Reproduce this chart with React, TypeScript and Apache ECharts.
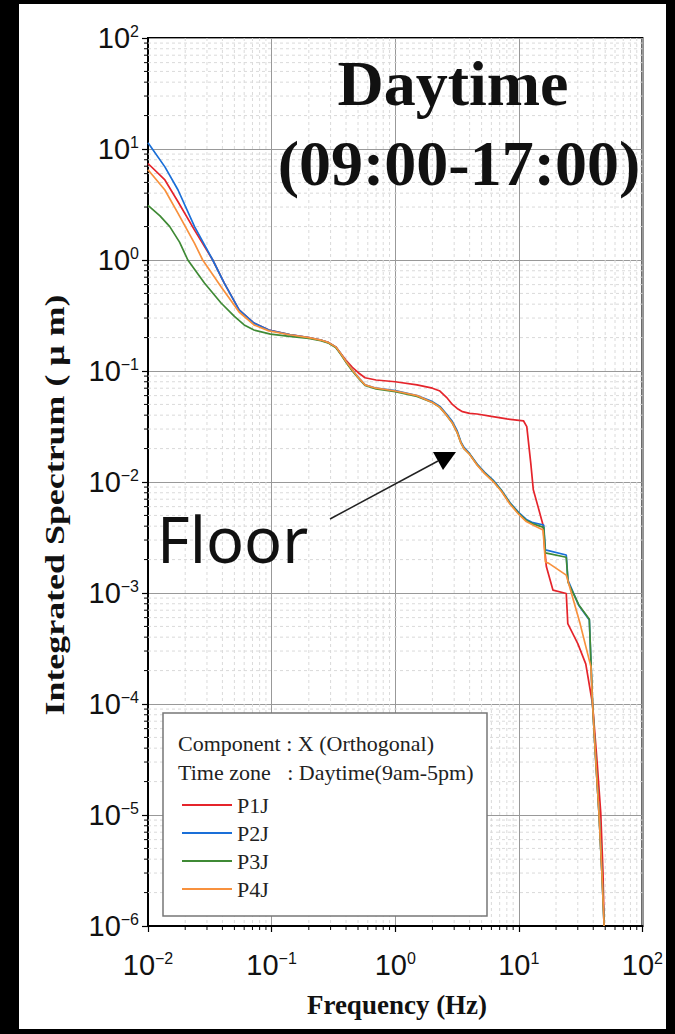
import React, { useEffect, useRef } from "react";
import * as echarts from "echarts";

// ---------- data ----------
const freqP1J = [0.01, 0.0137, 0.0175, 0.0238, 0.0334, 0.0414, 0.0546, 0.072, 0.095, 0.14, 0.2, 0.25, 0.29, 0.33, 0.36, 0.4, 0.45, 0.5, 0.57, 0.7, 1.0, 1.5, 2.0, 2.3, 2.6, 2.9, 3.17, 3.5, 4.0, 4.6, 6, 8, 10.9, 11.6, 12.5, 13.1, 14.3, 15.7, 16.2, 16.7, 18.9, 24.2, 24.9, 30, 34.8, 39.5, 43, 46, 48, 49];
const valP1J = [7.4, 5.26, 3.35, 1.86, 1.0, 0.62, 0.355, 0.27, 0.234, 0.213, 0.2, 0.19, 0.18, 0.165, 0.145, 0.125, 0.108, 0.097, 0.087, 0.083, 0.08, 0.075, 0.07, 0.066, 0.058, 0.05, 0.046, 0.043, 0.0415, 0.041, 0.039, 0.037, 0.0356, 0.0315, 0.0147, 0.0085, 0.006, 0.0041, 0.0025, 0.00173, 0.00106, 0.00099, 0.00053, 0.00035, 0.00023, 0.0001, 0.00003, 0.0000105, 0.000003, 0.000001];

const freqP2J = [0.01, 0.0137, 0.0175, 0.0238, 0.0334, 0.0414, 0.0546, 0.072, 0.095, 0.14, 0.2, 0.25, 0.29, 0.33, 0.36, 0.4, 0.45, 0.5, 0.57, 0.7, 1.0, 1.5, 2.0, 2.3, 2.6, 2.9, 3.17, 3.4, 3.6, 4.0, 4.6, 5.3, 6.2, 7.2, 8.5, 10, 11.5, 13, 15.9, 16.4, 24.2, 25, 30.6, 37.2, 39.5, 42, 44.6, 47, 49];
const valP2J = [11.4, 6.9, 4.27, 2.0, 1.0, 0.62, 0.355, 0.27, 0.234, 0.213, 0.2, 0.19, 0.18, 0.165, 0.145, 0.122, 0.102, 0.088, 0.075, 0.07, 0.0665, 0.06, 0.053, 0.048, 0.041, 0.035, 0.029, 0.023, 0.0205, 0.018, 0.0145, 0.0122, 0.0104, 0.0085, 0.0065, 0.0053, 0.0046, 0.0043, 0.0041, 0.00245, 0.0022, 0.0013, 0.00077, 0.00057, 0.0001, 0.00003, 0.00001, 0.000003, 0.000001];

const freqP3J = [0.01, 0.0125, 0.015, 0.018, 0.021, 0.0286, 0.039, 0.05, 0.06, 0.072, 0.098, 0.14, 0.2, 0.25, 0.29, 0.33, 0.36, 0.4, 0.45, 0.5, 0.57, 0.7, 1.0, 1.5, 2.0, 2.3, 2.6, 2.9, 3.17, 3.4, 3.6, 4.0, 4.6, 5.3, 6.2, 7.2, 8.5, 10, 11.5, 13, 15.9, 16.4, 24.2, 25, 30.6, 37.2, 39.5, 42, 44.6, 47, 49];
const valP3J = [3.1, 2.5, 2.0, 1.45, 1.0, 0.62, 0.41, 0.31, 0.26, 0.234, 0.215, 0.205, 0.197, 0.188, 0.178, 0.163, 0.143, 0.12, 0.1, 0.087, 0.074, 0.069, 0.065, 0.059, 0.052, 0.047, 0.04, 0.034, 0.028, 0.0225, 0.02, 0.0178, 0.0143, 0.012, 0.0102, 0.0084, 0.0064, 0.0052, 0.0045, 0.0042, 0.0039, 0.0023, 0.0021, 0.00125, 0.00078, 0.00058, 0.0001, 0.00003, 0.00001, 0.000003, 0.000001];

const freqP4J = [0.01, 0.0137, 0.0175, 0.0238, 0.0277, 0.039, 0.0546, 0.072, 0.095, 0.14, 0.2, 0.25, 0.29, 0.33, 0.36, 0.4, 0.45, 0.5, 0.57, 0.7, 1.0, 1.5, 2.0, 2.3, 2.6, 2.9, 3.17, 3.4, 3.6, 4.0, 4.6, 5.3, 6.2, 7.2, 8.5, 10, 11.5, 13, 15.7, 16.4, 17.5, 24.2, 31.3, 38.3, 39.5, 42, 44.6, 47, 49];
const valP4J = [6.5, 4.27, 2.63, 1.41, 1.0, 0.575, 0.34, 0.26, 0.23, 0.212, 0.2, 0.19, 0.18, 0.165, 0.145, 0.122, 0.102, 0.088, 0.075, 0.07, 0.066, 0.06, 0.052, 0.047, 0.04, 0.034, 0.028, 0.0225, 0.02, 0.0177, 0.0142, 0.0119, 0.0101, 0.0083, 0.0063, 0.0051, 0.0044, 0.0041, 0.0037, 0.0019, 0.00185, 0.00145, 0.00053, 0.000217, 0.0001, 0.00003, 0.00001, 0.000003, 0.000001];

const seriesNames = ["P1J", "P2J", "P3J", "P4J"];
const seriesColors = ["#e5242b", "#1a6fd8", "#3f8a35", "#f8913d"];

const xDecades = [0.01, 0.1, 1, 10];
const yDecades = [0.000001, 0.00001, 0.0001, 0.001, 0.01, 0.1, 1, 10];
const minorMultipliers = [2, 3, 4, 5, 6, 7, 8, 9];

const titleLine1 = "Daytime";
const titleLine2 = "(09:00-17:00)";
const legendLine1 = "Component : X (Orthogonal)";
const legendLine2 = "Time zone   : Daytime(9am-5pm)";
const xAxisTitle = "Frequency (Hz)";
const yAxisTitle = "Integrated Spectrum ( \u03bc m)";
const annotationText = "Floor";

const SERIF = "'Liberation Serif', 'Times New Roman', serif";
const SANS = "'Liberation Sans', Arial, sans-serif";

function zip(f: number[], v: number[]) {
  return f.map((x, i) => [x, v[i]]);
}

function expLabel(v: number) {
  const e = Math.round(Math.log10(v));
  const s = e < 0 ? "\u2212" + Math.abs(e) : String(e);
  return `{m|10}{e|${s}}`;
}

const richLabel = {
  m: { fontSize: 29, fontFamily: SANS, color: "#111", lineHeight: 30 },
  e: { fontSize: 16, fontFamily: SANS, color: "#111", verticalAlign: "top", lineHeight: 16 },
};

export default function App() {
  const ref = useRef<HTMLDivElement>(null);

  useEffect(() => {
    if (!ref.current) return;
    const chart = echarts.init(ref.current, undefined, { renderer: "svg" });

    const lineData = [zip(freqP1J, valP1J), zip(freqP2J, valP2J), zip(freqP3J, valP3J), zip(freqP4J, valP4J)];

    const minorX: number[][] = [];
    xDecades.forEach((d) => minorMultipliers.forEach((m) => minorX.push([m * d, 1])));
    const minorY: number[][] = [];
    yDecades.forEach((d) => minorMultipliers.forEach((m) => minorY.push([1, m * d])));

    const option: any = {
      animation: false,
      backgroundColor: "#ffffff",
      grid: {
        left: 129,
        top: 34,
        right: 19,
        bottom: 103,
        show: true,
        borderColor: "#000",
        borderWidth: 2,
        backgroundColor: "transparent",
      },
      xAxis: {
        type: "log",
        logBase: 10,
        min: 0.01,
        max: 100,
        splitNumber: 4,
        axisLine: { show: true, onZero: false, lineStyle: { color: "#000", width: 2 } },
        axisTick: { show: true, inside: false, length: 6, lineStyle: { color: "#000", width: 1.2 } },
        axisLabel: { formatter: expLabel, rich: richLabel, margin: 24 },
        splitLine: { show: true, lineStyle: { color: "#999", width: 1 } },
      },
      yAxis: {
        type: "log",
        logBase: 10,
        min: 0.000001,
        max: 100,
        splitNumber: 8,
        axisLine: { show: true, onZero: false, lineStyle: { color: "#000", width: 2 } },
        axisTick: { show: true, inside: false, length: 6, lineStyle: { color: "#000", width: 1.2 } },
        axisLabel: { formatter: expLabel, rich: richLabel, margin: 9 },
        splitLine: { show: true, lineStyle: { color: "#999", width: 1 } },
      },
      legend: {
        data: seriesNames,
        orient: "vertical",
        left: 158,
        top: 785,
        icon: "rect",
        itemWidth: 50,
        itemHeight: 2,
        itemGap: 6,
        z: 6,
        textStyle: { fontFamily: SERIF, fontSize: 22, color: "#222", lineHeight: 22 },
      },
      series: [
        {
          type: "custom",
          name: "minorX",
          z: 1,
          silent: true,
          clip: false,
          data: minorX,
          encode: { x: 0, y: 1 },
          renderItem: (params: any, api: any) => {
            const cs = params.coordSys;
            const x = api.coord([api.value(0), 1])[0];
            return {
              type: "group",
              children: [
                { type: "line", shape: { x1: x, y1: cs.y, x2: x, y2: cs.y + cs.height }, style: { stroke: "#dadada", lineWidth: 1, lineDash: [3, 3] } },
                { type: "line", shape: { x1: x, y1: cs.y + cs.height, x2: x, y2: cs.y + cs.height + 4 }, style: { stroke: "#000", lineWidth: 1 } },
              ],
            };
          },
        },
        {
          type: "custom",
          name: "minorY",
          z: 1,
          silent: true,
          clip: false,
          data: minorY,
          encode: { x: 0, y: 1 },
          renderItem: (params: any, api: any) => {
            const cs = params.coordSys;
            const y = api.coord([1, api.value(1)])[1];
            return {
              type: "group",
              children: [
                { type: "line", shape: { x1: cs.x, y1: y, x2: cs.x + cs.width, y2: y }, style: { stroke: "#dadada", lineWidth: 1, lineDash: [3, 3] } },
                { type: "line", shape: { x1: cs.x - 4, y1: y, x2: cs.x, y2: y }, style: { stroke: "#000", lineWidth: 1 } },
              ],
            };
          },
        },
        ...seriesNames.map((name, i) => ({
          type: "line",
          name,
          data: lineData[i],
          showSymbol: false,
          symbol: "none",
          z: 3,
          color: seriesColors[i],
          lineStyle: { color: seriesColors[i], width: 1.7 },
        })),
      ],
      graphic: [
        { type: "text", z: 5, style: { text: titleLine1, x: 434, y: 79, align: "center", verticalAlign: "middle", font: `bold 64px ${SERIF}`, fill: "#111" } },
        { type: "text", z: 5, style: { text: titleLine2, x: 440, y: 159, align: "center", verticalAlign: "middle", font: `bold 64px ${SERIF}`, fill: "#111" } },
        { type: "rect", z: 4, shape: { x: 144, y: 709, width: 324, height: 203 }, style: { fill: "#fff", stroke: "#777", lineWidth: 1.5 } },
        { type: "text", z: 5, style: { text: legendLine1, x: 159, y: 739, align: "left", verticalAlign: "middle", font: `22px ${SERIF}`, fill: "#222" } },
        { type: "text", z: 5, style: { text: legendLine2, x: 159, y: 768, align: "left", verticalAlign: "middle", font: `22px ${SERIF}`, fill: "#222" } },
        { type: "text", z: 5, style: { text: annotationText, x: 138, y: 534, align: "left", verticalAlign: "middle", font: `63px 'Noto Sans', sans-serif`, fill: "#111" } },
        { type: "line", z: 5, shape: { x1: 311, y1: 515, x2: 419, y2: 457 }, style: { stroke: "#222", lineWidth: 1.5 } },
        { type: "polygon", z: 5, shape: { points: [[414, 448], [437, 448], [424, 466]] }, style: { fill: "#000" } },
        { type: "text", z: 5, style: { text: xAxisTitle, x: 378, y: 1001, align: "center", verticalAlign: "middle", font: `bold 27px ${SERIF}`, fill: "#111" } },
        { type: "text", z: 5, x: 36, y: 501, rotation: Math.PI / 2, scaleX: 1.33, style: { text: yAxisTitle, x: 0, y: 0, align: "center", verticalAlign: "middle", font: `bold 27px ${SERIF}`, fill: "#111" } },
      ],
    };

    chart.setOption(option);
    return () => chart.dispose();
  }, []);

  return (
    <div style={{ position: "fixed", left: 0, top: 0, width: 675, height: 1034, background: "#000" }}>
      <div ref={ref} style={{ position: "absolute", left: 19, top: 4, width: 647, height: 1025 }} />
    </div>
  );
}
